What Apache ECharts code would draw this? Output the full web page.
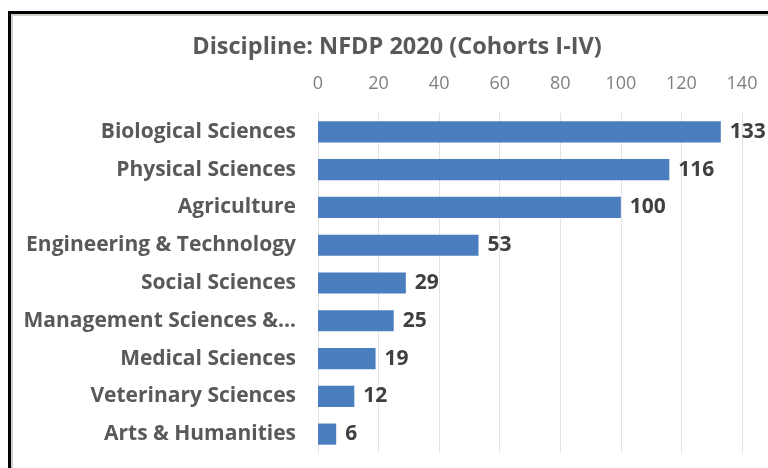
<!DOCTYPE html>
<html>
<head>
<meta charset="utf-8">
<script src="https://cdn.jsdelivr.net/npm/echarts@6/dist/echarts.min.js"></script>
<style>
  html, body { margin: 0; padding: 0; background: #fff; }
  #frame { position: absolute; left: 8px; top: 11px; width: 780px; height: 470px;
           border-left: 3px solid #000; border-top: 3px solid #000; }
  #inner { position: absolute; left: 11px; top: 14px; width: 780px; height: 452px;
           border-left: 2px solid #d0d0c8; border-top: 2px solid #d0d0c8; border-bottom: 1px solid #e6e6e6; }
  #chart { position: absolute; left: 0; top: 0; width: 768px; height: 468px; }
</style>
</head>
<body>
<div id="frame"></div>
<div id="inner"></div>
<div id="chart"></div>
<script>
// 数据（从上到下的顺序）
var categories = ['Biological Sciences', 'Physical Sciences', 'Agriculture', 'Engineering & Technology',
  'Social Sciences', 'Management Sciences &...', 'Medical Sciences', 'Veterinary Sciences', 'Arts & Humanities'];
var counts = [133, 116, 100, 53, 29, 25, 19, 12, 6];
var tickMax = 140;
var tickStep = 20;

var chart = echarts.init(document.getElementById('chart'));

var option = {
  backgroundColor: 'transparent',
  animation: false,
  title: {
    text: 'Discipline: NFDP 2020 (Cohorts I-IV)',
    left: 392,
    textAlign: 'center',
    top: 30,
    textStyle: { fontFamily: 'Open Sans', fontWeight: 'bold', fontSize: 23.5, color: '#595959' }
  },
  grid: { left: 318, right: 26, top: 113, bottom: 15, containLabel: false },
  xAxis: {
    type: 'value',
    position: 'top',
    min: 0,
    max: tickMax,
    interval: tickStep,
    axisLine: { show: false },
    axisTick: { show: false },
    axisLabel: { fontFamily: 'Open Sans', fontSize: 18, color: '#7f7f7f', margin: 20 },
    splitLine: { lineStyle: { color: '#e3e3e3', width: 1 } }
  },
  yAxis: {
    type: 'category',
    inverse: true,
    data: categories,
    axisLine: { lineStyle: { color: '#e3e3e3' } },
    axisTick: { show: false },
    axisLabel: { fontFamily: 'Open Sans', fontWeight: 'bold', fontSize: 21, color: '#595959', margin: 22 }
  },
  series: [{
    type: 'bar',
    data: counts,
    barCategoryGap: '44%',
    itemStyle: { color: '#4a7ebf' },
    label: {
      show: true,
      position: 'right',
      distance: 9,
      fontFamily: 'Open Sans',
      fontWeight: 'bold',
      fontSize: 21,
      color: '#404040'
    }
  }]
};

chart.setOption(option);
</script>
</body>
</html>
